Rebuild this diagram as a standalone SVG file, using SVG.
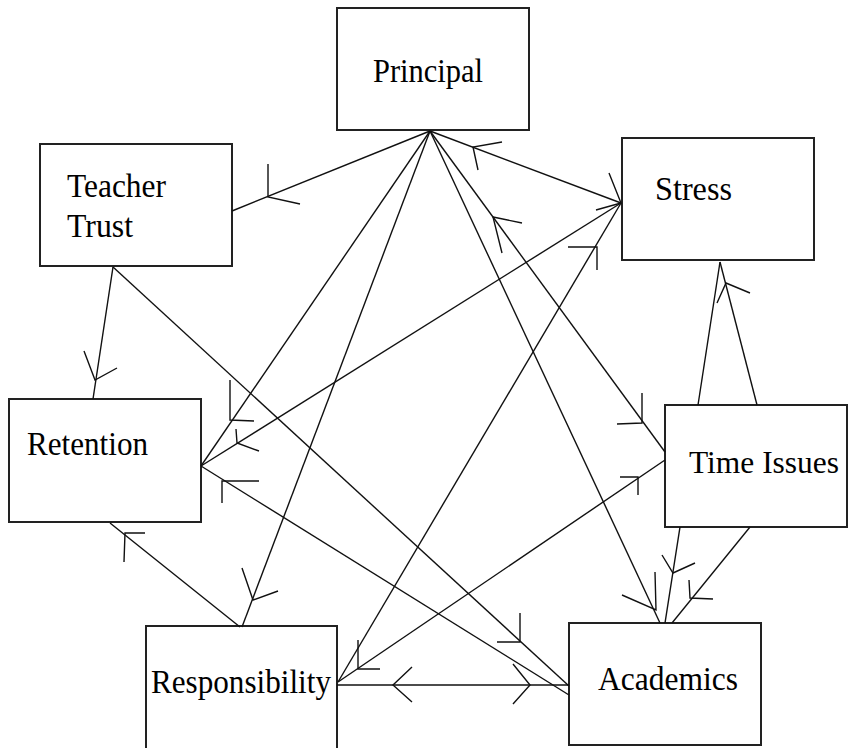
<svg xmlns="http://www.w3.org/2000/svg" width="849" height="748" viewBox="0 0 849 748">
<style>
.box{fill:#fff;stroke:#222;stroke-width:2}
.lbl{font-family:"Liberation Serif","Times New Roman",serif;font-size:34px;fill:#000}
.ln{fill:none;stroke:#111;stroke-width:1.4}
.ah{fill:none;stroke:#111;stroke-width:1.4}
</style>
<rect x="0" y="0" width="849" height="748" fill="#fff"/>
<g id="nodes">
<g id="principal"><rect class="box" x="337" y="8" width="192" height="122"/><text class="lbl" x="373" y="82" textLength="110" lengthAdjust="spacingAndGlyphs">Principal</text></g>
<g id="teacher-trust"><rect class="box" x="40" y="144" width="192" height="122"/><text class="lbl" x="67" y="197" textLength="99" lengthAdjust="spacingAndGlyphs">Teacher</text><text class="lbl" x="67" y="237" textLength="66" lengthAdjust="spacingAndGlyphs">Trust</text></g>
<g id="stress"><rect class="box" x="622" y="138" width="192" height="122"/><text class="lbl" x="655" y="200" textLength="77" lengthAdjust="spacingAndGlyphs">Stress</text></g>
<g id="retention"><rect class="box" x="9" y="399" width="192" height="123"/><text class="lbl" x="27" y="455" textLength="121" lengthAdjust="spacingAndGlyphs">Retention</text></g>
<g id="time-issues"><rect class="box" x="665" y="405" width="182" height="122"/><text class="lbl" x="689" y="473" style="font-size:32px" textLength="150" lengthAdjust="spacingAndGlyphs">Time Issues</text></g>
<g id="academics"><rect class="box" x="569" y="623" width="192" height="122"/><text class="lbl" x="598" y="690" textLength="140" lengthAdjust="spacingAndGlyphs">Academics</text></g>
<g id="responsibility"><rect class="box" x="146" y="626" width="191" height="130"/><text class="lbl" x="151" y="693" textLength="180" lengthAdjust="spacingAndGlyphs">Responsibility</text></g>
</g>
<g id="connectors">
<line class="ln" x1="430" y1="131" x2="232" y2="211"/>
<polyline class="ah" points="268,164 268,197 300,204"/>
<line class="ln" x1="430" y1="131" x2="621" y2="203"/>
<polyline class="ah" points="502,142 473,147 478,170"/>
<polyline class="ah" points="609,173 621,203 596,210"/>
<line class="ln" x1="430" y1="131" x2="201" y2="466"/>
<polyline class="ah" points="230,380 230,420 254,421"/>
<line class="ln" x1="430" y1="131" x2="242" y2="627"/>
<polyline class="ah" points="242,568 253,600 278,591"/>
<line class="ln" x1="430" y1="131" x2="660" y2="623"/>
<polyline class="ah" points="655,572 656,610 622,595"/>
<line class="ln" x1="430" y1="131" x2="665" y2="452"/>
<polyline class="ah" points="522,223 493,217 502,253"/>
<polyline class="ah" points="642,393 642,423 617,424"/>
<line class="ln" x1="113" y1="267" x2="93" y2="399"/>
<polyline class="ah" points="84,351 95,380 117,368"/>
<line class="ln" x1="113" y1="267" x2="569" y2="686"/>
<polyline class="ah" points="520,613 520,642 497,642"/>
<line class="ln" x1="201" y1="466" x2="621" y2="203"/>
<polyline class="ah" points="236,429 237,443 259,451"/>
<line class="ln" x1="201" y1="466" x2="569" y2="695"/>
<polyline class="ah" points="259,481 222,481 222,503"/>
<line class="ln" x1="110" y1="523" x2="240" y2="627"/>
<polyline class="ah" points="145,533 125,533 124,562"/>
<line class="ln" x1="338" y1="682" x2="621" y2="203"/>
<polyline class="ah" points="568,247 597,247 597,270"/>
<line class="ln" x1="338" y1="682" x2="665" y2="460"/>
<polyline class="ah" points="620,477 638,477 638,495"/>
<polyline class="ah" points="358,640 358,669 380,669"/>
<line class="ln" x1="337" y1="685" x2="569" y2="685"/>
<polyline class="ah" points="412,667 393,685 412,702"/>
<polyline class="ah" points="513,664 530,685 513,704"/>
<line class="ln" x1="720" y1="262" x2="698" y2="405"/>
<line class="ln" x1="720" y1="262" x2="757" y2="405"/>
<polyline class="ah" points="750,293 726,283 717,303"/>
<line class="ln" x1="680" y1="527" x2="665" y2="623"/>
<polyline class="ah" points="662,555 673,573 695,563"/>
<line class="ln" x1="750" y1="527" x2="672" y2="623"/>
<polyline class="ah" points="689,580 690,598 713,599"/>
</g>
</svg>
